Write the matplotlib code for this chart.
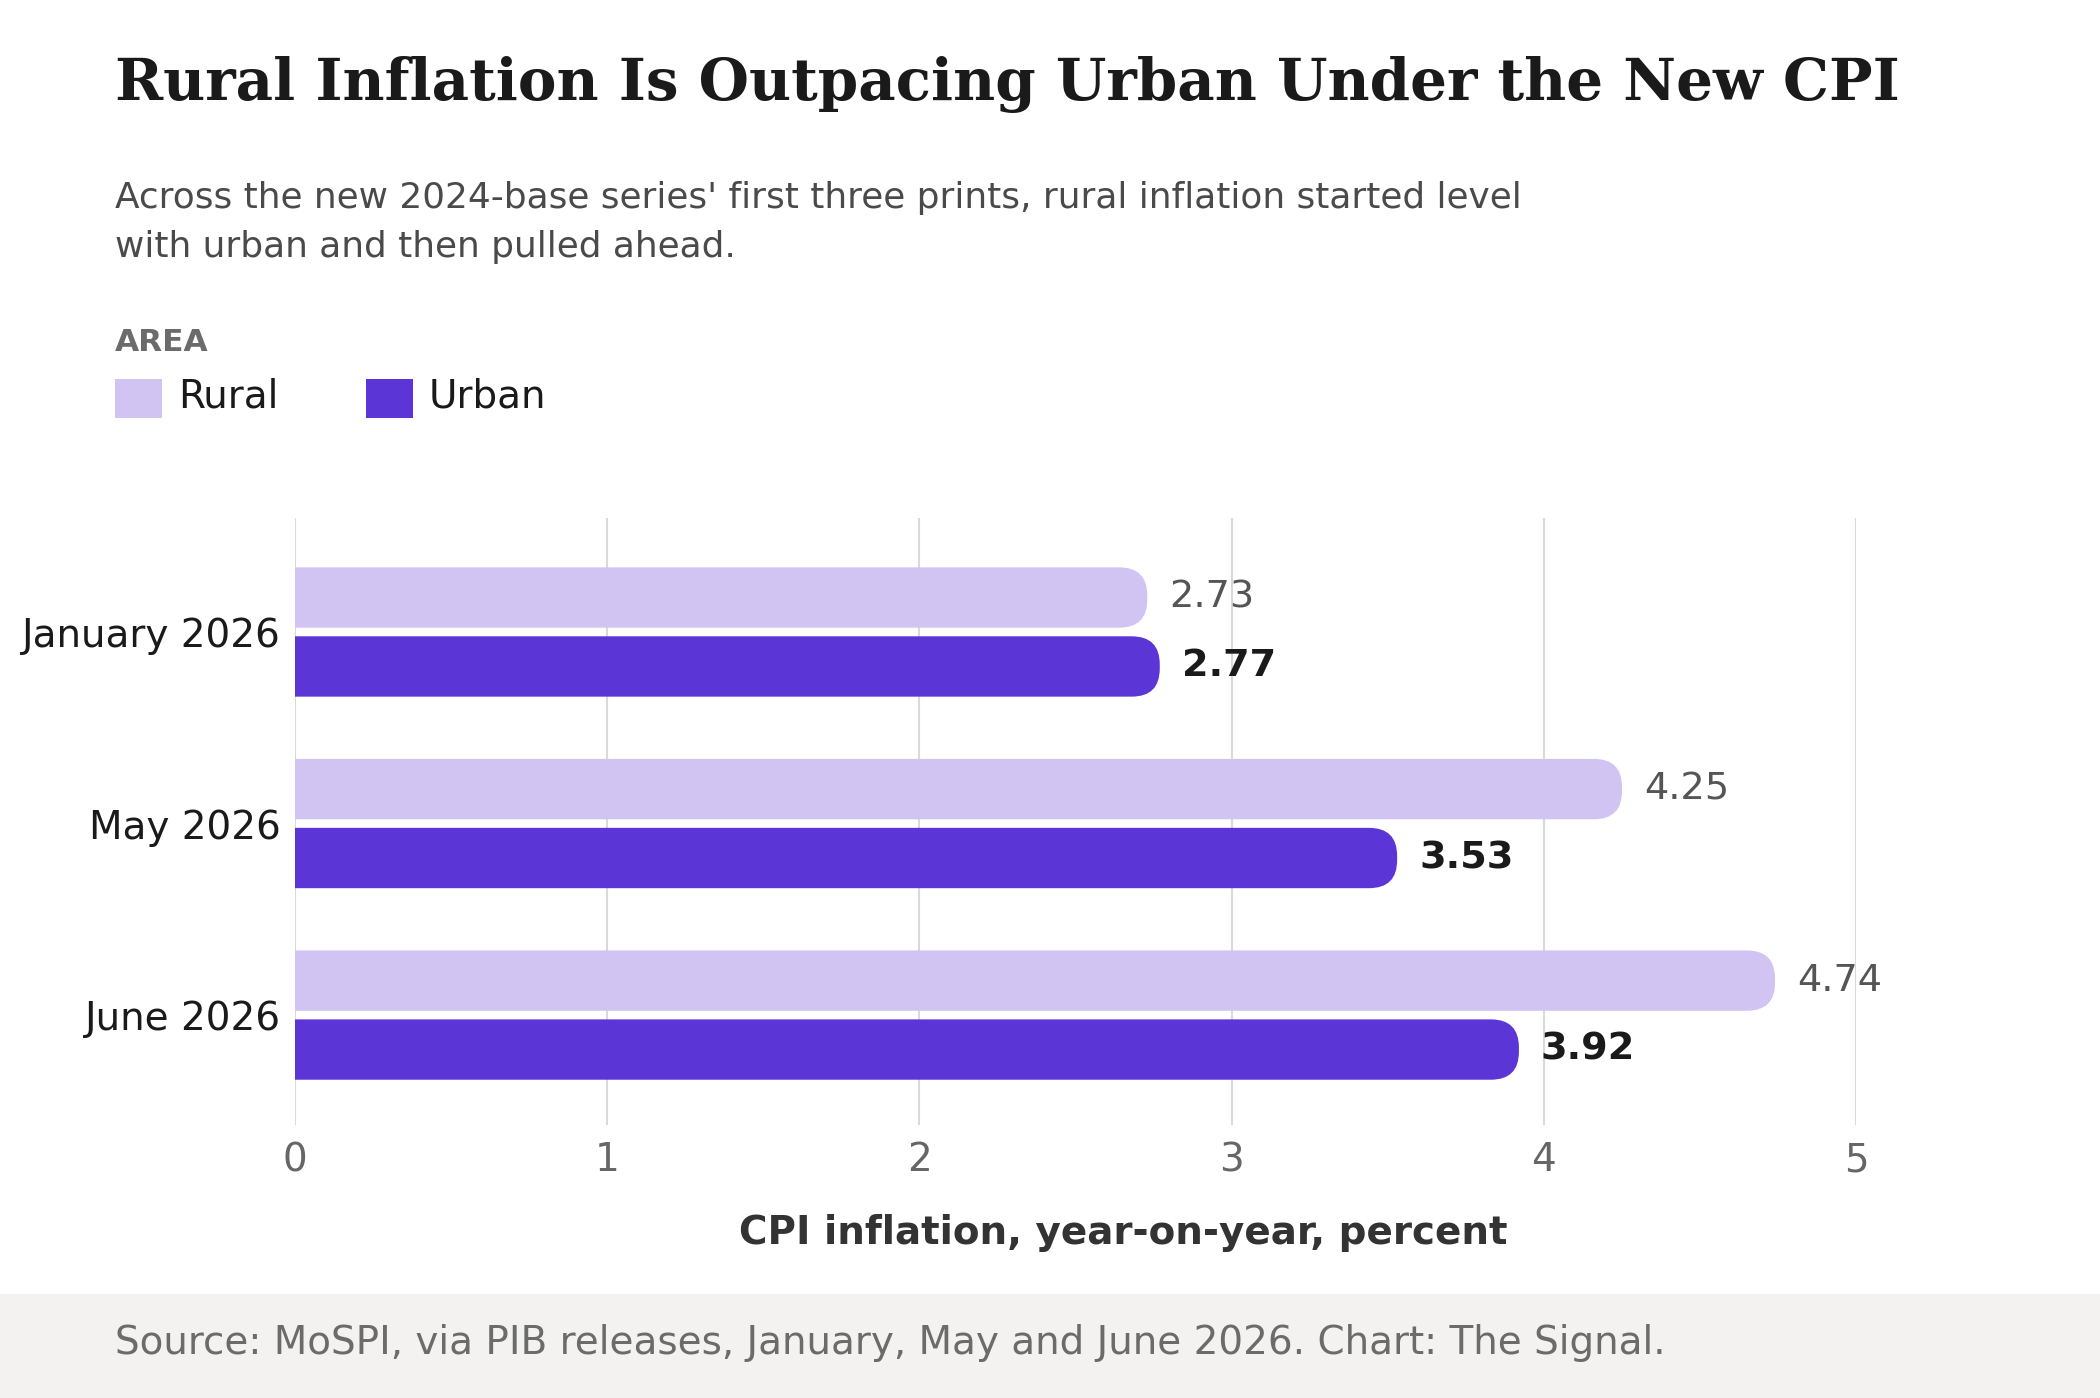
import matplotlib.pyplot as plt
from matplotlib.patches import FancyBboxPatch, Rectangle

months = ['January 2026', 'May 2026', 'June 2026']
rural = [2.73, 4.25, 4.74]
urban = [2.77, 3.53, 3.92]

RURAL_C = '#d1c4f2'
URBAN_C = '#5b35d5'

fig = plt.figure(figsize=(21, 13.98), dpi=100)
H = 1044.0
W = 1568.0

def fy(y):
    return 1 - y / H

ax = fig.add_axes([220 / W, fy(840), (1386 - 220) / W, (840 - 387) / H])
ax.set_xlim(0, 5)
ax.set_ylim(2.573, -0.594)

bh = 0.315
off = 0.18
aspect = (1 / 143) / (1 / 233.2)
for i, (r, u) in enumerate(zip(rural, urban)):
    for val, dy, col in [(r, -off, RURAL_C), (u, off, URBAN_C)]:
        p = FancyBboxPatch((-0.3, i + dy - bh / 2), val + 0.3, bh,
                           boxstyle='round,pad=0,rounding_size=0.09',
                           mutation_aspect=aspect, fc=col, ec='none', zorder=3)
        ax.add_patch(p)
    ax.text(r + 0.07, i - off, f'{r:.2f}', va='center', ha='left', fontsize=27.5, color='#555555')
    ax.text(u + 0.07, i + off, f'{u:.2f}', va='center', ha='left', fontsize=27.5,
            color='#1a1a1a', fontweight='bold')

ax.set_xticks(range(6))
ax.set_yticks(range(3))
ax.set_yticklabels(months, fontsize=28, color='#1a1a1a')
ax.tick_params(axis='x', labelsize=28, labelcolor='#666666', length=0, pad=12)
ax.tick_params(axis='y', length=0, pad=10)
ax.grid(axis='x', color='#d9d9d9', lw=1.5, zorder=0)
for s in ax.spines.values():
    s.set_visible(False)
ax.set_xlabel('CPI inflation, year-on-year, percent', fontsize=28, fontweight='bold',
              color='#333333', labelpad=28)
ax.xaxis.set_label_coords((839 - 220) / (1386 - 220), -(921 - 840) / (840 - 387) + 0.0)
ax.xaxis.label.set_va('center')

fig.text(86 / W, fy(63), 'Rural Inflation Is Outpacing Urban Under the New CPI',
         family='DejaVu Serif', fontweight='bold', fontsize=41.7, color='#1a1a1a', va='center')
fig.text(86 / W, fy(166), "Across the new 2024-base series' first three prints, rural inflation started level\nwith urban and then pulled ahead.",
         fontsize=25.8, color='#4a4a4a', va='center', linespacing=1.55)
fig.text(86 / W, fy(256), 'AREA', fontsize=22.5, fontweight='bold', color='#6b6b6b', va='center')
fig.patches.append(Rectangle((86 / W, fy(312)), 35 / W, 29 / H, transform=fig.transFigure, fc=RURAL_C, ec='none'))
fig.text(133 / W, fy(296), 'Rural', fontsize=28, color='#1a1a1a', va='center')
fig.patches.append(Rectangle((273 / W, fy(312)), 35 / W, 29 / H, transform=fig.transFigure, fc=URBAN_C, ec='none'))
fig.text(320 / W, fy(296), 'Urban', fontsize=28, color='#1a1a1a', va='center')

fig.patches.append(Rectangle((0, 0), 1, (H - 966) / H, transform=fig.transFigure, fc='#f3f2f1', ec='none', zorder=-1))
fig.text(86 / W, fy(1003), 'Source: MoSPI, via PIB releases, January, May and June 2026. Chart: The Signal.',
         fontsize=28, color='#6b6b6b', va='center')

fig.savefig('out.png', dpi=100)
